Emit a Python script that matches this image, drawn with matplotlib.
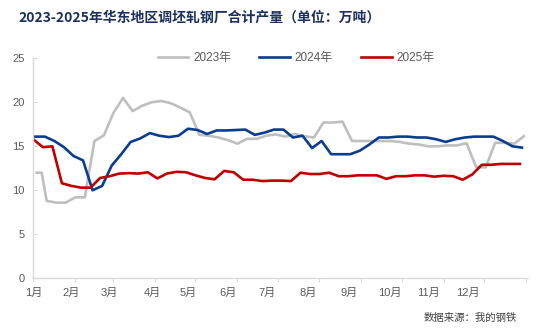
import matplotlib
matplotlib.use("Agg")
import matplotlib.pyplot as plt
import numpy as np

plt.rcParams['font.family'] = ['Liberation Sans', 'Noto Sans CJK SC', 'DejaVu Sans']

# weekly series (values in 万吨)
vals_2023_head = [12.0, 12.0]
vals_2023 = [8.8, 8.6, 8.6, 9.2, 9.2, 15.6, 16.25, 18.8, 20.5, 19.0,
             19.6, 20.0, 20.15, 19.9, 19.4, 18.85, 16.3, 16.2, 16.0, 15.7,
             15.3, 15.85, 15.85, 16.2, 16.35, 16.1, 16.4, 16.15, 16.0, 17.7,
             17.7, 17.8, 15.6, 15.6, 15.6, 15.6, 15.6, 15.5, 15.3, 15.2,
             15.0, 15.0, 15.1, 15.1, 15.35, 12.65, 12.6, 15.4, 15.4, 15.3,
             16.15]
vals_2024 = [16.1, 16.1, 15.6, 14.9, 13.9, 13.4, 10.0, 10.5, 12.8, 14.1,
             15.5, 15.9, 16.5, 16.2, 16.05, 16.2, 17.0, 16.85, 16.4, 16.8,
             16.8, 16.85, 16.9, 16.3, 16.55, 16.9, 16.9, 16.0, 16.2, 14.8,
             15.6, 14.1, 14.1, 14.1, 14.5, 15.2, 16.0, 16.0, 16.1, 16.1,
             16.0, 16.0, 15.8, 15.5, 15.8, 16.0, 16.1, 16.1, 16.1, 15.6,
             15.0, 14.85]
vals_2025 = [15.8, 14.9, 15.0, 10.8, 10.5, 10.3, 10.3, 11.4, 11.6, 11.9,
             11.95, 11.9, 12.05, 11.35, 11.9, 12.1, 12.05, 11.7, 11.4, 11.25,
             12.2, 12.05, 11.2, 11.2, 11.05, 11.1, 11.1, 11.05, 12.0, 11.85,
             11.85, 12.0, 11.6, 11.6, 11.7, 11.7, 11.7, 11.3, 11.6, 11.6,
             11.7, 11.7, 11.55, 11.65, 11.6, 11.2, 11.8, 12.9, 12.9, 13.0,
             13.0, 13.0]

# day-of-year where each series begins
head_2023_days = [2.5, 6.2]
start_2023 = 9.9
start_2024 = 1.5
start_2025 = 0.0
week = 7.07

month_starts = [0, 31, 59, 90, 120, 151, 181, 212, 243, 273, 304, 334, 365]
month_label_pos = [0, 28, 56, 88, 115, 144, 173, 204, 234, 264, 293, 322]
month_labels = ['1月', '2月', '3月', '4月', '5月', '6月', '7月', '8月', '9月', '10月', '11月', '12月']

x2023 = np.concatenate([head_2023_days, start_2023 + week * np.arange(len(vals_2023))])
y2023 = np.concatenate([vals_2023_head, vals_2023])
x2024 = start_2024 + week * np.arange(len(vals_2024))
x2025 = start_2025 + week * np.arange(len(vals_2025))

fig = plt.figure(figsize=(5.43, 3.32), dpi=100)
ax = fig.add_axes([33.3 / 543, 1 - 278.3 / 332, 494.7 / 543, 220 / 332])

ax.plot(x2023, y2023, color='#bfbfbf', lw=1.9, label='2023年')
ax.plot(x2024, vals_2024, color='#0a3d8f', lw=1.9, label='2024年')
ax.plot(x2025, vals_2025, color='#c00000', lw=1.9, label='2025年')

ax.set_xlim(0, 366.5)
ax.set_ylim(0, 25)
ax.set_yticks([0, 5, 10, 15, 20, 25])

ax.xaxis.remove_overlapping_locs = False
ax.set_xticks(month_starts)
ax.set_xticklabels([''] * len(month_starts))
ax.set_xticks(month_label_pos, minor=True)
ax.set_xticklabels(month_labels, minor=True)

for s in ['top', 'right']:
	ax.spines[s].set_visible(False)
for s in ['left', 'bottom']:
	ax.spines[s].set_color('#d9d9d9')
	ax.spines[s].set_linewidth(1.0)

ax.tick_params(axis='y', direction='in', length=3, color='#d9d9d9', labelcolor='#595959', labelsize=8, pad=6)
ax.tick_params(axis='x', which='major', direction='out', length=3, color='#d9d9d9')
ax.tick_params(axis='x', which='minor', length=0, labelcolor='#595959', labelsize=8, pad=7)

fig.legend(loc='center', bbox_to_anchor=(0.545, 1 - 58.5 / 332), ncol=3, frameon=False,
	fontsize=8.5, handlelength=2.6, handletextpad=0.4, columnspacing=2.4, labelcolor='#595959')

fig.text(18 / 543, 1 - 17.5 / 332, '2023-2025年华东地区调坯轧钢厂合计产量（单位：万吨）',
	fontsize=10, fontweight='bold', color='#1c2f5e', ha='left', va='center',
	family=['Noto Sans CJK SC', 'DejaVu Sans'])
fig.text(517 / 543, 1 - 318 / 332, '数据来源：我的钢铁', fontsize=7.5, color='#404040',
	ha='right', va='center', family=['Noto Sans CJK SC', 'DejaVu Sans'])

fig.savefig('out.png', dpi=100)
plt.close()
